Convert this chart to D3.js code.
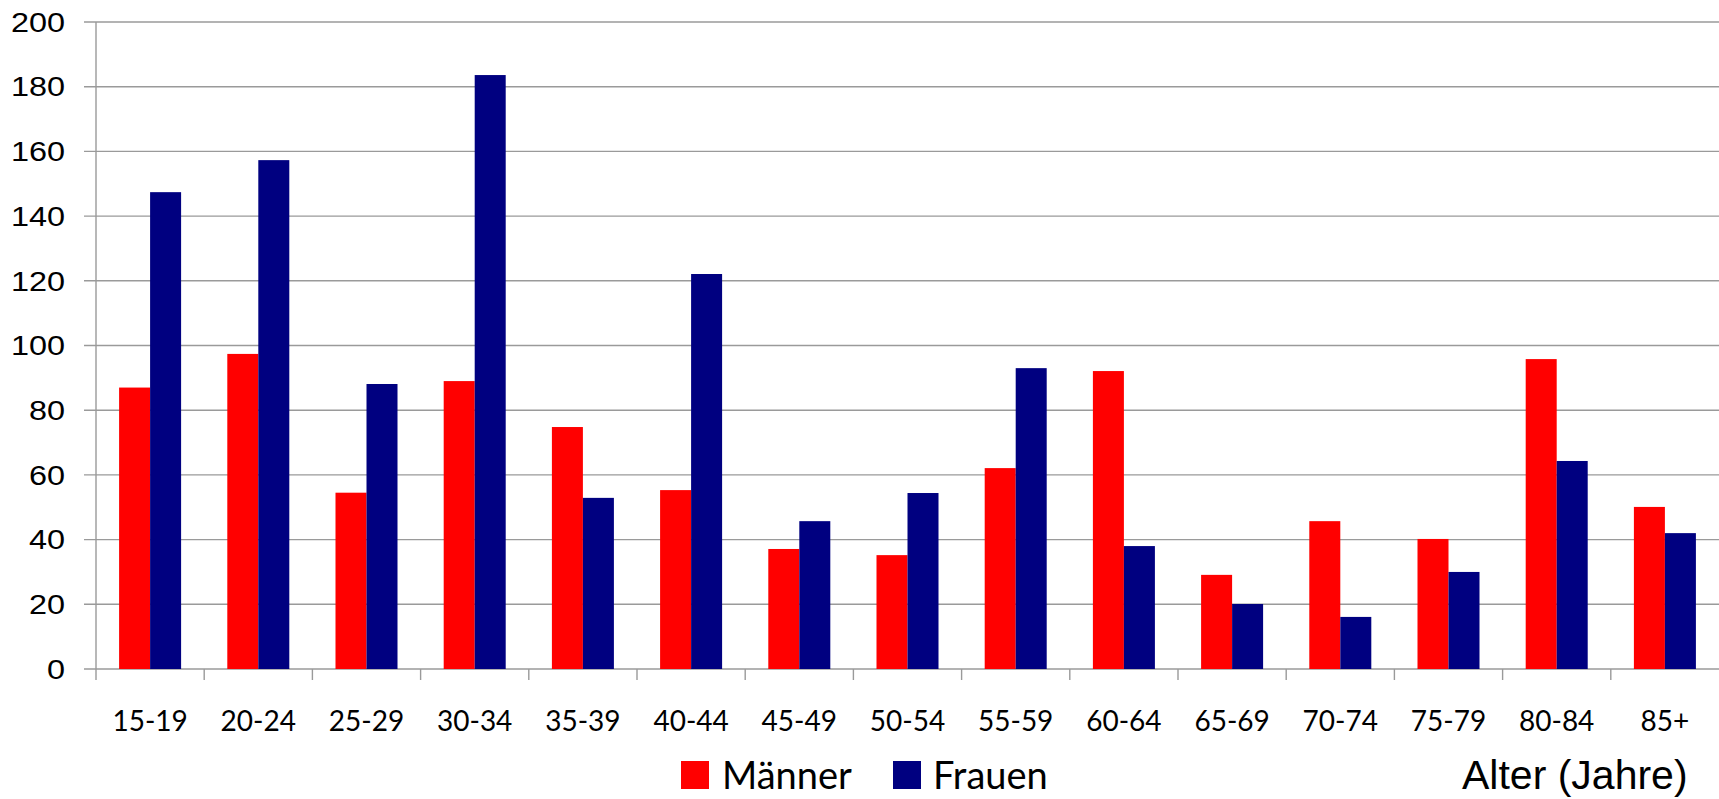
<!DOCTYPE html>
<html>
<head>
<meta charset="utf-8">
<script src="https://cdn.jsdelivr.net/npm/d3@7"></script>
<style>
  html, body { margin: 0; padding: 0; background: #fff; }
  svg { display: block; }
</style>
</head>
<body>
<svg id="chart" width="1719" height="799"></svg>
<script>
// Age groups and counts per sex
const categories = ["15-19", "20-24", "25-29", "30-34", "35-39", "40-44", "45-49", "50-54",
                    "55-59", "60-64", "65-69", "70-74", "75-79", "80-84", "85+"];
const seriesNames = ["Männer", "Frauen"];
const maenner = [87, 97.4, 54.5, 89, 74.8, 55.3, 37.1, 35.2, 62.1, 92.1, 29.1, 45.7, 40.2, 95.8, 50.1];
const frauen  = [147.4, 157.3, 88.1, 183.6, 52.9, 122.1, 45.7, 54.4, 93, 38, 20.1, 16.1, 30, 64.3, 42];
const yTicks = [0, 20, 40, 60, 80, 100, 120, 140, 160, 180, 200];
const colors = ["#ff0000", "#000080"];
const axisTitle = "Alter (Jahre)";

(function drawChart() {
  const rows = categories.map((c, i) => ({ cat: c, values: [maenner[i], frauen[i]] }));

  const svg = d3.select("#chart");
  const plotLeft = 96, plotRight = 1719, plotTop = 22, plotBottom = 669;

  const x0 = d3.scaleBand().domain(categories).range([plotLeft, plotRight]).paddingInner(0).paddingOuter(0);
  const x1 = d3.scaleBand().domain(seriesNames).range([0, x0.bandwidth()]).paddingInner(0).paddingOuter(0.745);
  const y = d3.scaleLinear().domain([0, 200]).range([plotBottom, plotTop]);
  const gridColor = "#9a9a9a";

  // horizontal gridlines with short tick stubs on the left
  svg.append("g").selectAll("line").data(yTicks).join("line")
    .attr("x1", plotLeft - 12).attr("x2", plotRight)
    .attr("y1", d => y(d)).attr("y2", d => y(d))
    .attr("stroke", gridColor).attr("stroke-width", 1.4);

  // y tick labels
  svg.append("g").selectAll("text").data(yTicks).join("text")
    .attr("transform", d => `translate(65,${y(d)}) scale(1.2,1)`)
    .attr("dy", "0.36em")
    .attr("text-anchor", "end")
    .attr("font-family", "Liberation Sans, Arial, sans-serif")
    .attr("font-size", 27)
    .attr("fill", "#000")
    .text(d => d);

  // bars
  const groups = svg.append("g").selectAll("g").data(rows).join("g")
    .attr("transform", d => `translate(${x0(d.cat)},0)`);
  groups.selectAll("rect").data(d => d.values.map((v, k) => ({ key: seriesNames[k], v, k })))
    .join("rect")
    .attr("x", d => x1(d.key))
    .attr("width", x1.bandwidth())
    .attr("y", d => y(d.v))
    .attr("height", d => y(0) - y(d.v))
    .attr("fill", d => colors[d.k]);

  // y axis line
  svg.append("line")
    .attr("x1", plotLeft).attr("x2", plotLeft).attr("y1", plotTop).attr("y2", plotBottom)
    .attr("stroke", gridColor).attr("stroke-width", 1.4);

  // x axis ticks at band boundaries
  svg.append("g").selectAll("line").data(categories).join("line")
    .attr("x1", d => x0(d)).attr("x2", d => x0(d))
    .attr("y1", plotBottom).attr("y2", plotBottom + 11)
    .attr("stroke", gridColor).attr("stroke-width", 1.4);

  // x category labels
  svg.append("g").selectAll("text").data(categories).join("text")
    .attr("x", d => x0(d) + x0.bandwidth() / 2)
    .attr("y", 731)
    .attr("text-anchor", "middle")
    .attr("font-family", "Lato, sans-serif")
    .attr("font-size", 28)
    .attr("fill", "#000")
    .text(d => d);

  // legend
  const legendX = [681, 893];
  const legend = svg.append("g").selectAll("g").data(seriesNames).join("g")
    .attr("transform", (d, i) => `translate(${legendX[i]},761)`);
  legend.append("rect").attr("width", 28).attr("height", 28).attr("fill", (d, i) => colors[i]);
  legend.append("text")
    .attr("x", (d, i) => i === 0 ? 41 : 40).attr("y", 28)
    .attr("font-family", "Lato, sans-serif")
    .attr("font-size", 38)
    .attr("fill", "#000")
    .text(d => d);

  // axis title
  svg.append("text")
    .attr("x", 1462).attr("y", 789)
    .attr("font-family", "Liberation Sans, Arial, sans-serif")
    .attr("font-size", 41)
    .attr("fill", "#000")
    .text(axisTitle);
})();
</script>
</body>
</html>
